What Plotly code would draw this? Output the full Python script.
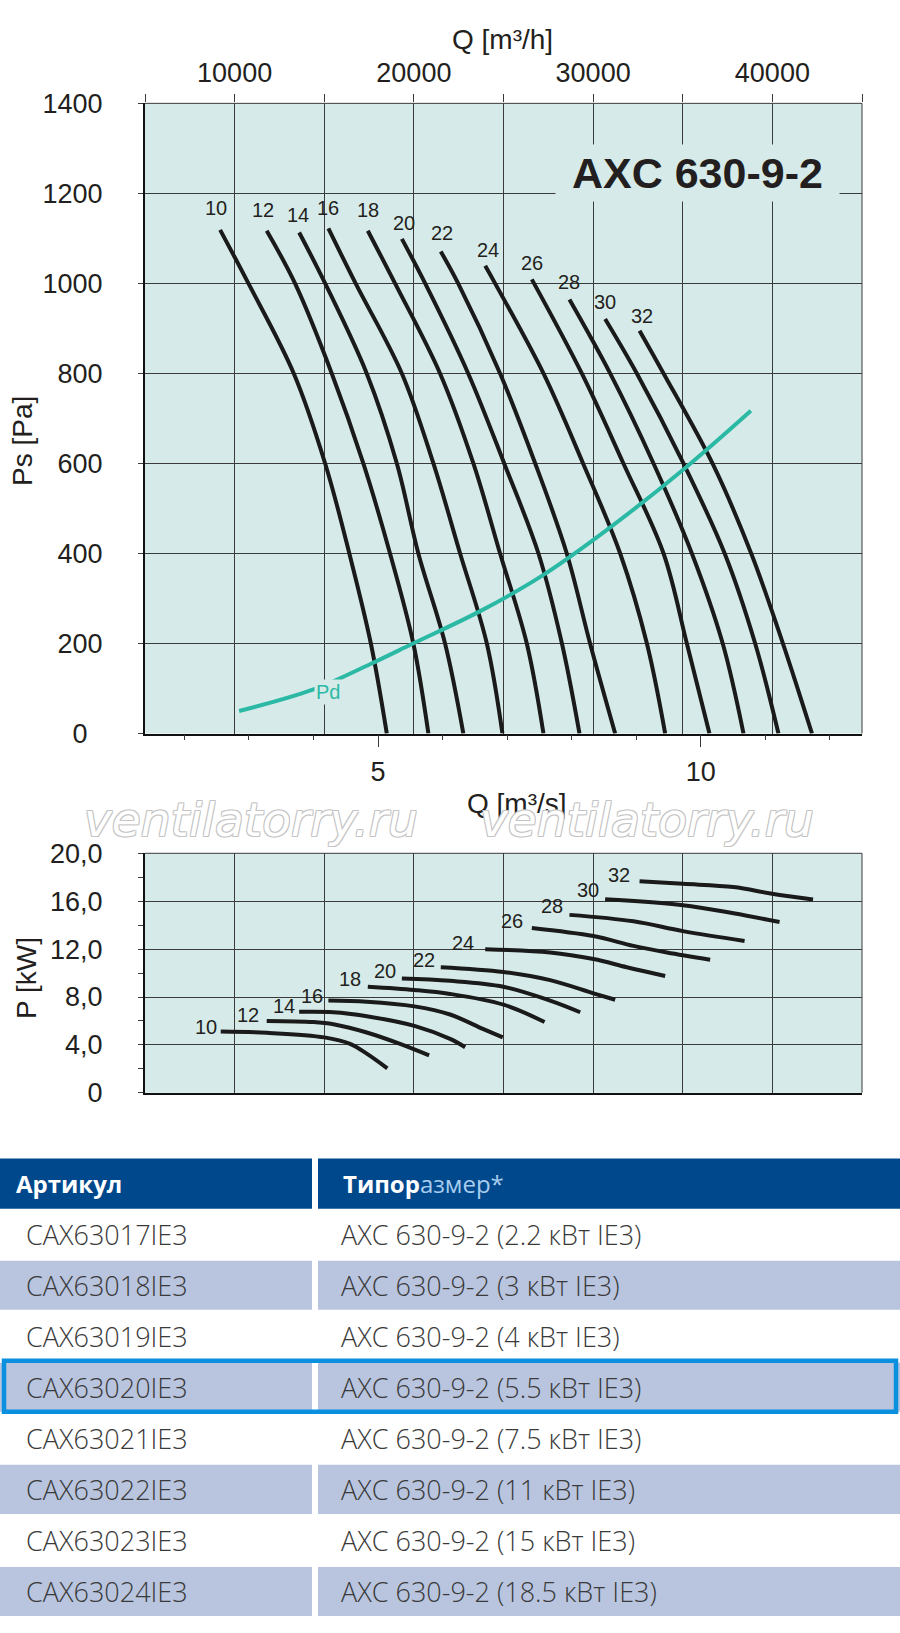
import plotly.graph_objects as go

W, H = 900, 1633

# blade angle labels
angles = ["10", "12", "14", "16", "18", "20", "22", "24", "26", "28", "30", "32"]

# --- static pressure curves, Q in m3/h, Ps in Pa ---
q_10 = [9190, 10770, 13300, 15050, 16400, 17600, 18490]
ps_10 = [1119, 1000, 800, 600, 400, 200, 0]
q_12 = [11790, 13370, 15420, 17180, 18670, 19970, 20810]
ps_12 = [1117, 1000, 800, 600, 400, 200, 0]
q_14 = [13600, 15050, 17370, 19050, 20250, 21740, 22760]
ps_14 = [1113, 1000, 800, 600, 400, 200, 0]
q_16 = [15230, 16750, 19330, 21090, 22580, 24070, 24940]
ps_16 = [1122, 1000, 800, 600, 400, 200, 0]
q_18 = [17430, 18950, 21460, 23320, 24810, 26300, 27230]
ps_18 = [1117, 1000, 800, 600, 400, 200, 0]
q_20 = [19330, 20630, 23030, 25040, 26950, 28260, 29240]
ps_20 = [1099, 1000, 800, 600, 400, 200, 0]
q_22 = [21500, 22470, 24810, 26770, 28530, 29830, 31230]
ps_22 = [1071, 1000, 800, 600, 400, 200, 0]
q_24 = [23980, 24530, 27230, 29440, 31510, 33000, 34020]
ps_24 = [1039, 1000, 800, 600, 400, 200, 0]
q_26 = [26580, 29370, 31690, 33930, 35230, 36490]
ps_26 = [1009, 800, 600, 400, 200, 0]
q_28 = [28680, 30950, 33370, 35510, 37230, 38390]
ps_28 = [964, 800, 600, 400, 200, 0]
q_30 = [30670, 32440, 35040, 37340, 39040, 40340]
ps_30 = [921, 800, 600, 400, 200, 0]
q_32 = [32590, 33930, 36660, 38820, 40590, 42210]
ps_32 = [895, 800, 600, 400, 200, 0]

label_q = [8960, 11570, 13520, 15200, 17460, 19470, 21580, 24130, 26580, 28660, 30670, 32720]
label_ps = [1167, 1162, 1152, 1168, 1162, 1135, 1111, 1075, 1046, 1004, 959, 927]

# dynamic pressure line
pd_q = [10250, 14400, 17550, 19950, 23700, 27050, 30750, 35140, 38800]
pd_ps = [50, 98, 154, 200, 272, 348, 452, 590, 717]

# --- shaft power curves, Q in m3/h, P in kW ---
pq_10 = [9225, 11790, 15010, 16440, 17370, 18520]
p_10 = [5.12, 5.01, 4.63, 4.09, 3.27, 2.04]
pq_12 = [11790, 14390, 15510, 17370, 19230, 20850]
p_12 = [6.0, 5.91, 5.73, 5.04, 4.09, 3.13]
pq_14 = [13600, 15510, 17370, 20030, 22020, 22860]
p_14 = [6.76, 6.73, 6.40, 5.59, 4.50, 3.81]
pq_16 = [15230, 17370, 20030, 22020, 23880, 24960]
p_16 = [7.71, 7.61, 7.22, 6.54, 5.32, 4.63]
pq_18 = [17430, 20030, 22020, 25000, 27290]
p_18 = [8.86, 8.59, 8.26, 7.36, 5.91]
pq_20 = [19330, 22020, 25000, 27600, 29280]
p_20 = [9.54, 9.35, 8.86, 7.70, 6.73]
pq_22 = [21500, 25000, 27600, 30020, 31230]
p_22 = [10.49, 10.09, 9.41, 8.31, 7.77]
pq_24 = [23980, 27600, 30020, 31880, 34020]
p_24 = [11.99, 11.72, 11.17, 10.49, 9.76]
pq_26 = [26580, 30020, 32250, 34120, 36530]
p_26 = [13.77, 13.09, 12.27, 11.72, 11.12]
pq_28 = [28680, 32250, 35010, 38450]
p_28 = [14.86, 14.32, 13.50, 12.68]
pq_30 = [30670, 35010, 37830, 40400]
p_30 = [16.16, 15.67, 14.99, 14.26]
pq_32 = [32590, 35010, 37830, 39980, 42270]
p_32 = [17.67, 17.45, 17.18, 16.63, 16.14]

plabel_q = [8400, 10770, 12760, 14300, 16440, 18390, 20570, 22760, 25470, 27730, 29710, 31470]
plabel_p = [5.53, 6.49, 7.28, 8.12, 9.54, 10.14, 11.09, 12.48, 14.36, 15.59, 16.90, 18.21]

# axis ticks
q_top_ticks = [5000, 10000, 15000, 20000, 25000, 30000, 35000, 40000, 45000]
q_top_text = ["", "10000", "", "20000", "", "30000", "", "40000", ""]
qs_ticks = [5, 10]
qs_text = ["5", "10"]
ps_ticks = [0, 200, 400, 600, 800, 1000, 1200, 1400]
ps_text = ["0&nbsp;&nbsp;", "200", "400", "600", "800", "1000", "1200", "1400"]
p_ticks = [0, 4, 8, 12, 16, 20]
p_text = ["0", "4,0", "8,0", "12,0", "16,0", "20,0"]

# table
col_headers = ["Артикул", "Типоразмер*"]
articles = ["CAX63017IE3", "CAX63018IE3", "CAX63019IE3", "CAX63020IE3",
            "CAX63021IE3", "CAX63022IE3", "CAX63023IE3", "CAX63024IE3"]
sizes = ["AXC 630-9-2 (2.2 кВт IE3)", "AXC 630-9-2 (3 кВт IE3)",
         "AXC 630-9-2 (4 кВт IE3)", "AXC 630-9-2 (5.5 кВт IE3)",
         "AXC 630-9-2 (7.5 кВт IE3)", "AXC 630-9-2 (11 кВт IE3)",
         "AXC 630-9-2 (15 кВт IE3)", "AXC 630-9-2 (18.5 кВт IE3)"]
highlighted = "CAX63020IE3"

ps_curves = [(q_10, ps_10), (q_12, ps_12), (q_14, ps_14), (q_16, ps_16), (q_18, ps_18), (q_20, ps_20),
             (q_22, ps_22), (q_24, ps_24), (q_26, ps_26), (q_28, ps_28), (q_30, ps_30), (q_32, ps_32)]
p_curves = [(pq_10, p_10), (pq_12, p_12), (pq_14, p_14), (pq_16, p_16), (pq_18, p_18), (pq_20, p_20),
            (pq_22, p_22), (pq_24, p_24), (pq_26, p_26), (pq_28, p_28), (pq_30, p_30), (pq_32, p_32)]


def px(x):
    return x / W


def py(y):
    return 1 - y / H


PLOT_BG = "#d6ebe9"
GRID = "#3a3a3a"
INK = "#231f20"
TEAL = "#2bb9a5"
AX_FONT = "Liberation Sans, Arial, sans-serif"
TB_FONT = "Open Sans, Noto Sans, sans-serif"

left, right = 145, 862
top1, bot1 = 90, 732
top2, bot2 = 854, 1098

fig = go.Figure()

for q, ps in ps_curves:
    fig.add_trace(go.Scatter(x=q, y=ps, mode="lines", line=dict(color="#1a1a1a", width=4, shape="spline"),
                             xaxis="x", yaxis="y", showlegend=False, hoverinfo="skip"))
fig.add_trace(go.Scatter(x=pd_q, y=pd_ps, mode="lines", line=dict(color=TEAL, width=4, shape="spline"),
                         xaxis="x", yaxis="y", showlegend=False, hoverinfo="skip"))
for q, p in p_curves:
    fig.add_trace(go.Scatter(x=q, y=p, mode="lines", line=dict(color="#1a1a1a", width=4, shape="spline"),
                             xaxis="x4", yaxis="y2", showlegend=False, hoverinfo="skip"))
# empty traces so the overlay axes get drawn
fig.add_trace(go.Scatter(x=[], y=[], xaxis="x2", yaxis="y", showlegend=False))
fig.add_trace(go.Scatter(x=[], y=[], xaxis="x3", yaxis="y", showlegend=False))

tick_font = dict(family=AX_FONT, size=27, color=INK)
grid_x = dict(showgrid=True, gridcolor=GRID, gridwidth=1, tick0=5000, dtick=5000, zeroline=False)

fig.update_layout(
    width=W, height=H,
    margin=dict(l=0, r=0, t=0, b=0),
    paper_bgcolor="white", plot_bgcolor=PLOT_BG,
    showlegend=False,
    xaxis=dict(domain=[px(left), px(right)], anchor="y", range=[5000, 45000], showticklabels=False,
               ticks="", showline=True, linecolor="#111", linewidth=2, **grid_x),
    xaxis2=dict(overlaying="x", side="top", anchor="y", range=[5000, 45000], tickvals=q_top_ticks,
                ticktext=q_top_text, ticks="outside", ticklen=8, tickcolor=GRID, showgrid=False,
                zeroline=False, showline=False, tickfont=tick_font, ticklabelstandoff=2),
    xaxis3=dict(overlaying="x", side="bottom", anchor="y", range=[5000 / 3600, 45000 / 3600],
                tickvals=qs_ticks, ticktext=qs_text, ticks="outside", ticklen=12, tickcolor=GRID,
                minor=dict(ticks="outside", ticklen=5, tick0=0, dtick=1, tickcolor=GRID, showgrid=False),
                showgrid=False, zeroline=False, showline=False, tickfont=tick_font, ticklabelstandoff=2),
    yaxis=dict(domain=[py(bot1), py(top1)], anchor="x", range=[0, 1400], tickvals=ps_ticks, ticktext=ps_text,
               ticks="outside", ticklen=5, tickcolor=GRID, showgrid=True, gridcolor=GRID, gridwidth=1,
               zeroline=False, showline=True, linecolor="#111", linewidth=2, tickfont=tick_font,
               ticklabelstandoff=30),
    xaxis4=dict(domain=[px(left), px(right)], anchor="y2", range=[5000, 45000], showticklabels=False,
                ticks="", showline=True, linecolor="#111", linewidth=2, **grid_x),
    yaxis2=dict(domain=[py(bot2), py(top2)], anchor="x4", range=[0, 20], tickvals=p_ticks, ticktext=p_text,
                ticks="outside", ticklen=5, tickcolor=GRID,
                minor=dict(ticks="outside", ticklen=5, tick0=0, dtick=2, tickcolor=GRID, showgrid=False),
                showgrid=True, gridcolor=GRID, gridwidth=1, zeroline=False, showline=True,
                linecolor="#111", linewidth=2, tickfont=tick_font, ticklabelstandoff=30),
)

shapes = []
# thin frame on the top and right edges of both plots
for t, b in ((top1, bot1), (top2, bot2)):
    shapes.append(dict(type="line", xref="paper", yref="paper", x0=px(left), x1=px(right), y0=py(t), y1=py(t),
                       line=dict(color=GRID, width=1), layer="above"))
    shapes.append(dict(type="line", xref="paper", yref="paper", x0=px(right), x1=px(right), y0=py(t), y1=py(b),
                       line=dict(color=GRID, width=1), layer="above"))


def note(x, y, text, font, **kw):
    d = dict(xref="paper", yref="paper", x=px(x), y=py(y), text=text, showarrow=False, font=font,
             xanchor="center", yanchor="middle")
    d.update(kw)
    return d


ann = []
# model name on a plain box that hides the grid behind it
ann.append(note(697, 161, "&nbsp;<b>AXC 630-9-2</b>&nbsp;", dict(family=AX_FONT, size=43, color=INK),
                bgcolor=PLOT_BG, borderpad=4))
for name, q, ps in zip(angles, label_q, label_ps):
    ann.append(dict(xref="x", yref="y", x=q, y=ps, text=name, showarrow=False, xanchor="center",
                    yanchor="middle", font=dict(family=AX_FONT, size=20, color=INK)))
for name, q, p in zip(angles, plabel_q, plabel_p):
    ann.append(dict(xref="x4", yref="y2", x=q, y=p, text=name, showarrow=False, xanchor="center",
                    yanchor="middle", font=dict(family=AX_FONT, size=20, color=INK)))
ann.append(dict(xref="x", yref="y", x=15230, y=92, text="Pd", showarrow=False, bgcolor=PLOT_BG,
                xanchor="center", yanchor="middle", font=dict(family=AX_FONT, size=20, color=TEAL)))

title_font = dict(family=AX_FONT, size=28, color=INK)
ann.append(note(502, 25, "Q [m³/h]", title_font))
ann.append(note(22, 434, "Ps [Pa]", title_font, textangle=-90))
ann.append(note(517, 803, "Q [m³/s]", title_font))
ann.append(note(27, 981, "P [kW]", title_font, textangle=-90))

# watermark
outline = "-1px -1px 0 #c4c4c4, 1px -1px 0 #c4c4c4, -1px 1px 0 #c4c4c4, 1px 1px 0 #c4c4c4"
for cx in (251, 647):
    ann.append(note(cx, 820, "ventilatorry.ru",
                    dict(family="DejaVu Sans", size=47, color="white", style="italic", shadow=outline)))

# table
NAVY = "#00488c"
SHADE = "#b9c5df"
head_top, head_h, row_h = 1165, 51, 52
col1 = (0, 312)
col2 = (318, 900)
for c0, c1 in (col1, col2):
    shapes.append(dict(type="rect", xref="paper", yref="paper", x0=px(c0), x1=px(c1),
                       y0=py(head_top + head_h), y1=py(head_top), fillcolor=NAVY, line=dict(width=0),
                       layer="below"))
ann.append(note(14, head_top + head_h / 2, "<b>" + col_headers[0] + "</b>",
                dict(family=TB_FONT, size=24, color="white"), xanchor="left"))
ann.append(note(341, head_top + head_h / 2,
                "<b>" + col_headers[1][:5] + "</b><span style='color:#a9cdee'>" + col_headers[1][5:] + "</span>",
                dict(family=TB_FONT, size=24, color="white"), xanchor="left"))

body_top = head_top + head_h
row_font = dict(family=TB_FONT, size=27, color="#3a3a3a", weight=300)
for i, (art, size) in enumerate(zip(articles, sizes)):
    y0 = body_top + i * row_h
    if i % 2 == 1:
        for c0, c1 in (col1, col2):
            shapes.append(dict(type="rect", xref="paper", yref="paper", x0=px(c0), x1=px(c1),
                               y0=py(y0 + row_h - 1), y1=py(y0 + 1), fillcolor=SHADE, line=dict(width=0),
                               layer="below"))
    ann.append(note(24, y0 + row_h / 2, art, row_font, xanchor="left"))
    ann.append(note(339, y0 + row_h / 2, size, row_font, xanchor="left"))
    if art == highlighted:
        shapes.append(dict(type="rect", xref="paper", yref="paper", x0=px(4), x1=px(896),
                           y0=py(y0 + row_h - 1), y1=py(y0 - 1), line=dict(color="#0b8fdf", width=4.5),
                           layer="above"))

fig.update_layout(shapes=shapes, annotations=ann)
fig.write_html("out.html", config={"displayModeBar": False})

# no default page margin around the figure
with open("out.html", encoding="utf-8") as f:
    page = f.read()
page = page.replace("<head>", "<head><style>html,body{margin:0;padding:0;overflow:hidden;}</style>", 1)
with open("out.html", "w", encoding="utf-8") as f:
    f.write(page)
